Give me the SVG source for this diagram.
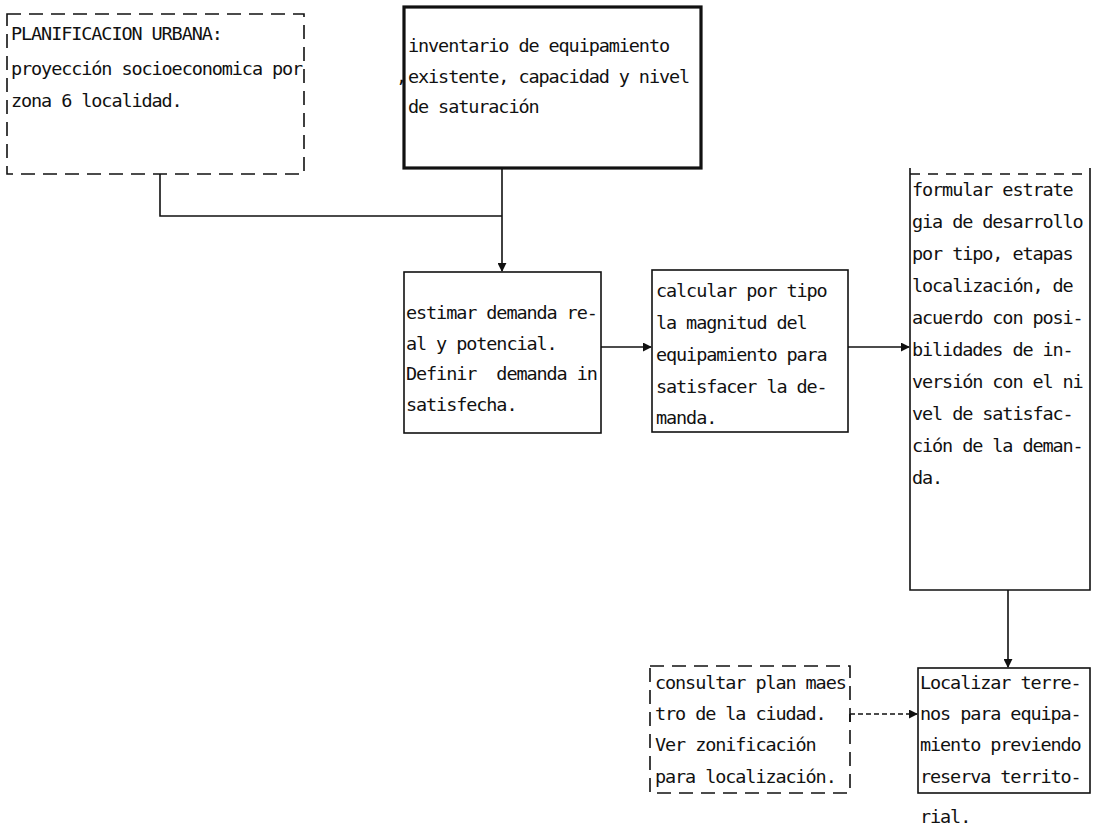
<svg xmlns="http://www.w3.org/2000/svg" width="1097" height="831" viewBox="0 0 1097 831">
<style>
  text { font-family: "DejaVu Sans Mono", "Liberation Mono", monospace; font-size: 18.5px; letter-spacing: -1.1px; fill: #111; white-space: pre; }
  .box { fill: none; stroke: #111; stroke-width: 1.6; }
  .thick { fill: none; stroke: #111; stroke-width: 3.2; }
  .dash { fill: none; stroke: #111; stroke-width: 1.6; stroke-dasharray: 14 8; }
  .line { fill: none; stroke: #111; stroke-width: 1.6; }
  .dline { fill: none; stroke: #111; stroke-width: 1.4; stroke-dasharray: 5 3; }
</style>
<defs>
  <marker id="arr" viewBox="0 0 10 10" refX="9" refY="5" markerWidth="9" markerHeight="9" markerUnits="userSpaceOnUse" orient="auto">
    <path d="M0,0 L10,5 L0,10 Z" fill="#111"/>
  </marker>
</defs>
<rect width="1097" height="831" fill="#fff"/>

<g id="n1">
  <rect class="dash" x="7" y="14" width="297" height="160"/>
  <text x="11" y="40">PLANIFICACION URBANA:</text>
  <text x="11" y="75">proyección socioeconomica por</text>
  <text x="11" y="107">zona 6 localidad.</text>
</g>

<g id="n2">
  <rect class="thick" x="404" y="7" width="297" height="161"/>
  <text x="408" y="52">inventario de equipamiento</text>
  <text x="396" y="83">,</text>
  <text x="408" y="83">existente, capacidad y nivel</text>
  <text x="408" y="113">de saturación</text>
</g>

<g id="n3">
  <rect class="box" x="404" y="272" width="197" height="161"/>
  <text x="406" y="319">estimar demanda re-</text>
  <text x="406" y="350">al y potencial.</text>
  <text x="406" y="380">Definir  demanda in</text>
  <text x="406" y="411">satisfecha.</text>
</g>

<g id="n4">
  <rect class="box" x="652" y="270" width="196" height="162"/>
  <text x="656" y="297">calcular por tipo</text>
  <text x="656" y="329">la magnitud del</text>
  <text x="656" y="361">equipamiento para</text>
  <text x="656" y="393">satisfacer la de-</text>
  <text x="656" y="424">manda.</text>
</g>

<g id="n5">
  <path class="line" d="M910,168 V590 H1090 V168"/>
  <path class="dash" d="M910,174 H1090" style="stroke-dasharray:10 8"/>
  <text x="912" y="196">formular estrate</text>
  <text x="912" y="228">gia de desarrollo</text>
  <text x="912" y="260">por tipo, etapas</text>
  <text x="912" y="292">localización, de</text>
  <text x="912" y="324">acuerdo con posi-</text>
  <text x="912" y="356">bilidades de in-</text>
  <text x="912" y="388">versión con el ni</text>
  <text x="912" y="420">vel de satisfac-</text>
  <text x="912" y="452">ción de la deman-</text>
  <text x="912" y="484">da.</text>
</g>

<g id="n6">
  <rect class="box" x="918" y="668" width="172" height="125"/>
  <text x="920" y="689">Localizar terre-</text>
  <text x="920" y="720">nos para equipa-</text>
  <text x="920" y="751">miento previendo</text>
  <text x="920" y="783">reserva territo-</text>
  <text x="920" y="823">rial.</text>
</g>

<g id="n7">
  <rect class="dash" x="650" y="666" width="200" height="127"/>
  <text x="655" y="689">consultar plan maes</text>
  <text x="655" y="720">tro de la ciudad.</text>
  <text x="655" y="751">Ver zonificación</text>
  <text x="655" y="783">para localización.</text>
</g>

<g id="connectors">
  <path class="line" d="M160,174 V216 H502"/>
  <path class="line" d="M502,168 V271" marker-end="url(#arr)"/>
  <path class="line" d="M601,347 H651" marker-end="url(#arr)"/>
  <path class="line" d="M848,347 H909" marker-end="url(#arr)"/>
  <path class="line" d="M1008,590 V667" marker-end="url(#arr)"/>
  <path class="line" d="M850,722 V714"/>
  <path class="dline" d="M850,714 H917" marker-end="url(#arr)"/>
</g>
</svg>
